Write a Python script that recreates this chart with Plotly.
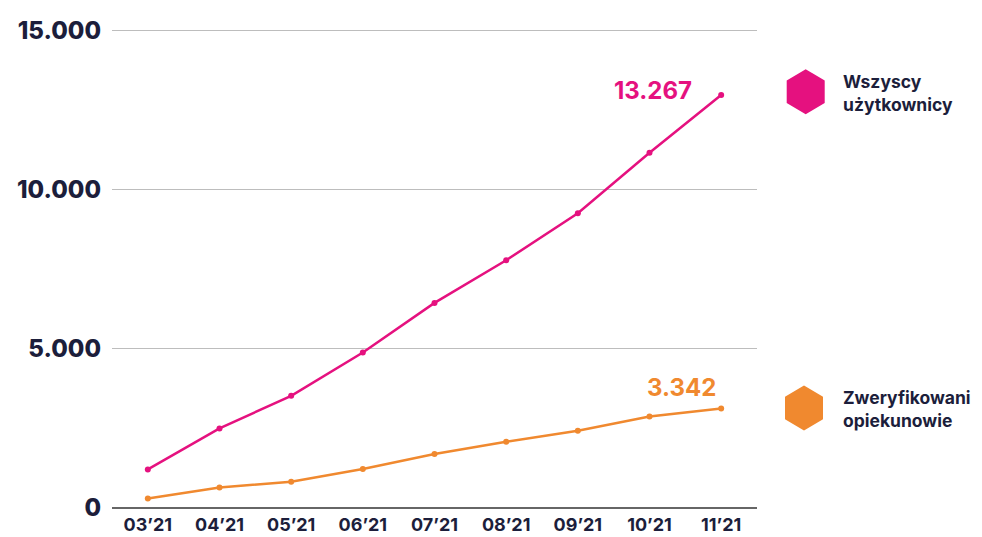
import plotly.graph_objects as go

months = ["03’21", "04’21", "05’21", "06’21", "07’21", "08’21", "09’21", "10’21", "11’21"]
all_users = [1211, 2497, 3523, 4881, 6440, 7779, 9253, 11154, 12964]
verified = [301, 646, 825, 1223, 1694, 2080, 2425, 2873, 3124]
series_names = ["Wszyscy<br>użytkownicy", "Zweryfikowani<br>opiekunowie"]
end_labels = ["13.267", "3.342"]
y_ticks = [0, 5000, 10000, 15000]
y_tick_text = ["0", "5.000", "10.000", "15.000"]

PINK = "#E5117F"
ORANGE = "#F0892F"
NAVY = "#1C1E3B"
FONT = "Inter"

fig = go.Figure()
fig.add_trace(go.Scatter(x=months, y=all_users, mode="lines+markers",
                         line=dict(color=PINK, width=2.5),
                         marker=dict(color=PINK, size=6), showlegend=False))
fig.add_trace(go.Scatter(x=months, y=verified, mode="lines+markers",
                         line=dict(color=ORANGE, width=2.5),
                         marker=dict(color=ORANGE, size=6), showlegend=False))

# plot area in window pixels: x 112..757, y 28..508.3
def px_x(x):
    return (x - 112) / 645.0

def px_y(y):
    return (508.3 - y) / 480.3

# value labels
fig.add_annotation(xref="paper", yref="paper", x=px_x(694), y=px_y(90.7), xanchor="right", yanchor="middle",
                   text="<b>%s</b>" % end_labels[0], showarrow=False,
                   font=dict(family=FONT, size=24, color=PINK, weight=800))
fig.add_annotation(xref="paper", yref="paper", x=px_x(681), y=px_y(388), xanchor="center", yanchor="middle",
                   text="<b>%s</b>" % end_labels[1], showarrow=False,
                   font=dict(family=FONT, size=24, color=ORANGE, weight=800))

# custom legend: hexagons + text
def hexpath(w, h):
    r = h / 2
    rt = w / 2
    r2 = r / 2
    return f"M{rt},{-r2} L{rt},{r2} L0,{r} L{-rt},{r2} L{-rt},{-r2} L0,{-r} Z"

for (xw, yw, col) in [(805.7, 91.7, PINK), (804, 408.3, ORANGE)]:
    fig.add_shape(type="path", xref="paper", yref="paper", xsizemode="pixel", ysizemode="pixel",
                  xanchor=px_x(xw), yanchor=px_y(yw), path=hexpath(38, 45),
                  fillcolor=col, line=dict(width=0))

for (xw, yw, name) in [(841, 92.9, series_names[0]), (841, 409.5, series_names[1])]:
    fig.add_annotation(xref="paper", yref="paper", x=px_x(xw), y=px_y(yw), xanchor="left", yanchor="middle",
                       align="left", text="<b>%s</b>" % name, showarrow=False,
                       font=dict(family=FONT, size=17.5, color=NAVY))

# page body has an 8px margin, so the figure is shrunk and shifted accordingly
fig.update_layout(
    width=974, height=529,
    margin=dict(l=104, r=225, t=20, b=28.7, autoexpand=False),
    plot_bgcolor="white", paper_bgcolor="white",
    xaxis=dict(type="category", range=[-0.5, 8.5], showgrid=False, showline=False, zeroline=False,
               ticks="", automargin=False, ticklabelstandoff=4,
               tickfont=dict(family=FONT, size=18, color=NAVY, weight="bold")),
    yaxis=dict(range=[0, 15070], tickvals=y_ticks, ticktext=y_tick_text,
               showgrid=True, gridcolor="#BDBDBD", gridwidth=1,
               zeroline=True, zerolinecolor="#666666", zerolinewidth=1.5,
               showline=False, ticks="", ticklabelstandoff=10, automargin=False,
               tickfont=dict(family=FONT, size=24, color=NAVY, weight=800)),
)

fig.write_html("out.html")
